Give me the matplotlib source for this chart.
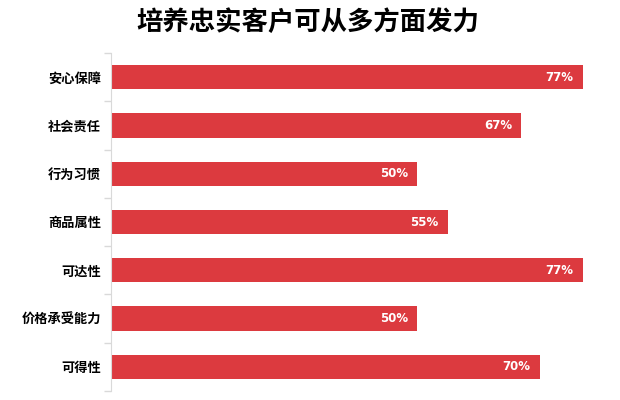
import matplotlib.pyplot as plt
from matplotlib.ticker import FixedLocator

plt.rcParams['font.family'] = ['Noto Sans CJK SC', 'DejaVu Sans']

# 数据
categories = ['安心保障', '社会责任', '行为习惯', '商品属性', '可达性', '价格承受能力', '可得性']
values = [77, 67, 50, 55, 77, 50, 70]
title = '培养忠实客户可从多方面发力'

bar_color = '#DC3A3F'
n = len(categories)
pos = list(range(n))[::-1]

fig = plt.figure(figsize=(6.2, 4.0), dpi=100)
ax = fig.add_axes([111 / 620, 9 / 400, 490 / 620, 338 / 400])

ax.barh(pos, values, height=0.5, color=bar_color)
for p, v in zip(pos, values):
    ax.text(v - 1.5, p, f'{v}%', ha='right', va='center', color='white',
            fontsize=8.5, fontweight='bold', family=['DejaVu Sans'])

ax.set_xlim(0, 80)
ax.set_ylim(-0.5, n - 0.5)
ax.set_yticks(pos)
ax.set_yticklabels(categories, fontsize=9.5, fontweight='bold')
ax.tick_params(axis='y', which='major', length=0, pad=7)
ax.yaxis.set_minor_locator(FixedLocator([i - 0.5 for i in range(n + 1)]))
ax.tick_params(axis='y', which='minor', length=5, color='#D9D9D9', width=1)
ax.set_xticks([])

for s in ['top', 'right', 'bottom']:
    ax.spines[s].set_visible(False)
ax.spines['left'].set_color('#D9D9D9')

fig.text(308 / 620, 1 - 22 / 400, title, ha='center', va='center',
         fontsize=19, fontweight='black')

fig.savefig('out.png', dpi=100)
